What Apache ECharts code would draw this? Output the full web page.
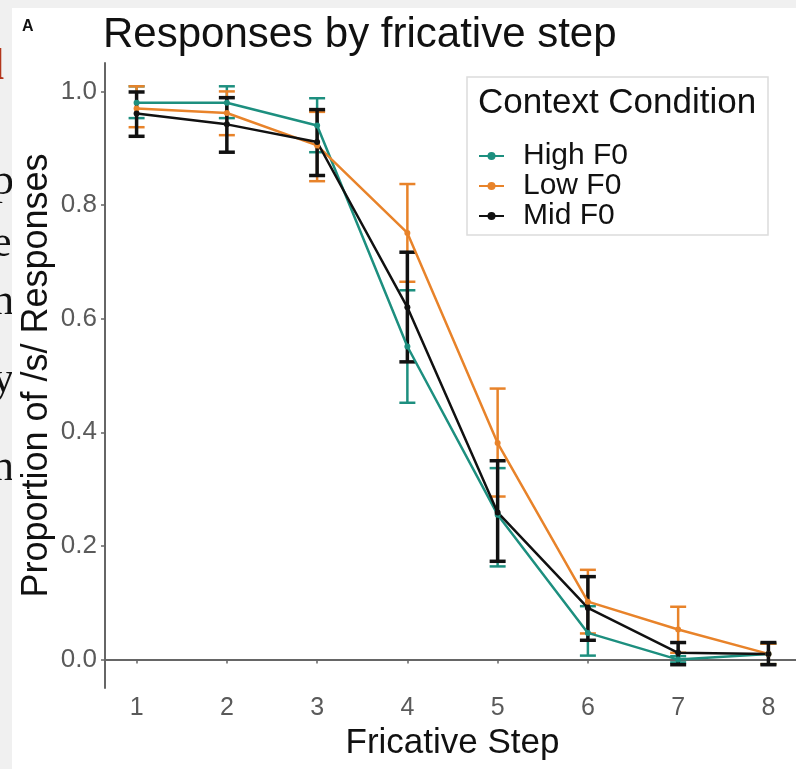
<!DOCTYPE html>
<html>
<head>
<meta charset="utf-8">
<script src="https://cdn.jsdelivr.net/npm/echarts@6/dist/echarts.min.js"></script>
<style>
  html, body { margin: 0; padding: 0; background: #f0f0f0; }
  #chart { width: 796px; height: 769px; }
</style>
</head>
<body>
<div id="chart"></div>
<script>
  // fricative steps on the x axis
  const steps = [1, 2, 3, 4, 5, 6, 7, 8];
  const yTicks = [0, 0.2, 0.4, 0.6, 0.8, 1.0];

  // proportion of /s/ responses
  const highMean = [0.980, 0.980, 0.940, 0.551, 0.255, 0.047, 0.000, 0.010];
  const highLo   = [0.953, 0.953, 0.893, 0.452, 0.164, 0.007, -0.005, -0.008];
  const highHi   = [1.009, 1.009, 0.988, 0.650, 0.337, 0.094, 0.006, 0.028];

  const lowMean  = [0.970, 0.962, 0.905, 0.751, 0.381, 0.102, 0.053, 0.010];
  const lowLo    = [0.937, 0.923, 0.842, 0.665, 0.287, 0.046, 0.012, -0.008];
  const lowHi    = [1.009, 1.000, 0.964, 0.837, 0.477, 0.158, 0.093, 0.028];

  const midMean  = [0.961, 0.942, 0.911, 0.620, 0.259, 0.091, 0.012, 0.010];
  const midLo    = [0.921, 0.893, 0.852, 0.524, 0.173, 0.034, -0.009, -0.009];
  const midHi    = [0.999, 0.989, 0.968, 0.717, 0.350, 0.146, 0.030, 0.030];

  const TEAL = '#1d8f7f', ORANGE = '#e8832a', BLACK = '#111111';

  function errBars (color, w) {
    return function (params, api) {
      const x = api.value(0);
      const pLo = api.coord([x, api.value(1)]);
      const pHi = api.coord([x, api.value(2)]);
      const hw = 8;
      const st = { stroke: color, lineWidth: w };
      return {
        type: 'group',
        children: [
          { type: 'line', shape: { x1: pLo[0], y1: pLo[1], x2: pHi[0], y2: pHi[1] }, style: st },
          { type: 'line', shape: { x1: pLo[0] - hw, y1: pLo[1], x2: pLo[0] + hw, y2: pLo[1] }, style: st },
          { type: 'line', shape: { x1: pHi[0] - hw, y1: pHi[1], x2: pHi[0] + hw, y2: pHi[1] }, style: st }
        ]
      };
    };
  }

  function lineSeries (name, mean, color) {
    return {
      name: name,
      type: 'line',
      data: steps.map((s, i) => [s, mean[i]]),
      symbol: 'circle',
      symbolSize: 6,
      itemStyle: { color: color },
      lineStyle: { color: color, width: 2.5 },
      emphasis: { disabled: true }
    };
  }

  function errSeries (name, lo, hi, color, w) {
    return {
      name: name,
      type: 'custom',
      data: steps.map((s, i) => [s, lo[i], hi[i]]),
      encode: { x: 0, y: [1, 2] },
      renderItem: errBars(color, w),
      silent: true
    };
  }

  // bits of the page text that peek out on the left
  const serif = 'Liberation Serif';
  const frags = [
    { t: 'l', y: 46, c: '#b3361c', b: 'bold' },
    { t: 'p,', y: 160, c: '#111', b: 'normal' },
    { t: 'e', y: 222, c: '#111', b: 'normal' },
    { t: 'h', y: 280, c: '#111', b: 'normal' },
    { t: 'y', y: 358, c: '#111', b: 'normal' },
    { t: 'n', y: 446, c: '#111', b: 'normal' }
  ];

  const chart = echarts.init(document.getElementById('chart'));

  const option = {
    backgroundColor: '#f0f0f0',
    animation: false,
    textStyle: { fontFamily: 'Liberation Sans' },
    grid: { left: 105, top: 63, width: 695, bottom: 81, containLabel: false, outerBoundsMode: 'none' },
    xAxis: {
      type: 'value',
      min: 0.65,
      max: 8.35,
      name: 'Fricative Step',
      nameLocation: 'middle',
      nameGap: 37,
      nameTextStyle: { fontSize: 35, color: '#111' },
      splitLine: { show: false },
      axisLine: { lineStyle: { color: '#666', width: 2 } },
      axisTick: { show: true, length: 4, lineStyle: { color: '#666', width: 1.5 }, customValues: steps },
      axisLabel: { customValues: steps, fontSize: 25, color: '#5a5a5a', margin: 8 }
    },
    yAxis: {
      type: 'value',
      min: -0.05,
      max: 1.05,
      name: 'Proportion of /s/ Responses',
      nameLocation: 'middle',
      nameGap: 50,
      nameMoveOverlap: false,
      nameRotate: 90,
      nameTextStyle: { fontSize: 36, color: '#111' },
      splitLine: { show: false },
      axisLine: { show: true, lineStyle: { color: '#666', width: 2 } },
      axisTick: { show: true, length: 4, lineStyle: { color: '#666', width: 1.5 }, customValues: yTicks },
      axisLabel: {
        customValues: yTicks, fontSize: 26, color: '#5a5a5a', margin: 8,
        formatter: v => v.toFixed(1)
      }
    },
    legend: {
      data: ['High F0', 'Low F0', 'Mid F0'],
      orient: 'vertical',
      left: 478,
      top: 141,
      itemWidth: 25,
      itemHeight: 10,
      itemGap: 0,
      padding: 0,
      textStyle: { fontSize: 30, color: '#111', padding: [0, 0, 0, 14], lineHeight: 28 }
    },
    graphic: [
      ...frags.map(f => ({
        type: 'text', left: -8, top: f.y,
        style: { text: f.t, font: f.b + ' 44px "' + serif + '"', fill: f.c }
      })),
      { type: 'rect', shape: { x: 12, y: 8, width: 784, height: 761 }, style: { fill: '#ffffff' } },
      { type: 'text', left: 22, top: 19, style: { text: 'A', font: 'bold 16px "Liberation Sans"', fill: '#111' } },
      { type: 'text', left: 103, top: 14, style: { text: 'Responses by fricative step', font: '42px "Liberation Sans"', fill: '#111' } },
      { type: 'rect', shape: { x: 467, y: 77, width: 301, height: 158 }, style: { fill: '#fff', stroke: '#dcdcdc', lineWidth: 1.5 } },
      { type: 'text', left: 478, top: 86, style: { text: 'Context Condition', font: '35px "Liberation Sans"', fill: '#111' } }
    ],
    series: [
      lineSeries('High F0', highMean, TEAL),
      errSeries('High F0 bars', highLo, highHi, TEAL, 2.5),
      lineSeries('Low F0', lowMean, ORANGE),
      errSeries('Low F0 bars', lowLo, lowHi, ORANGE, 2.5),
      lineSeries('Mid F0', midMean, BLACK),
      errSeries('Mid F0 bars', midLo, midHi, BLACK, 3.5)
    ]
  };

  chart.setOption(option);
</script>
</body>
</html>
